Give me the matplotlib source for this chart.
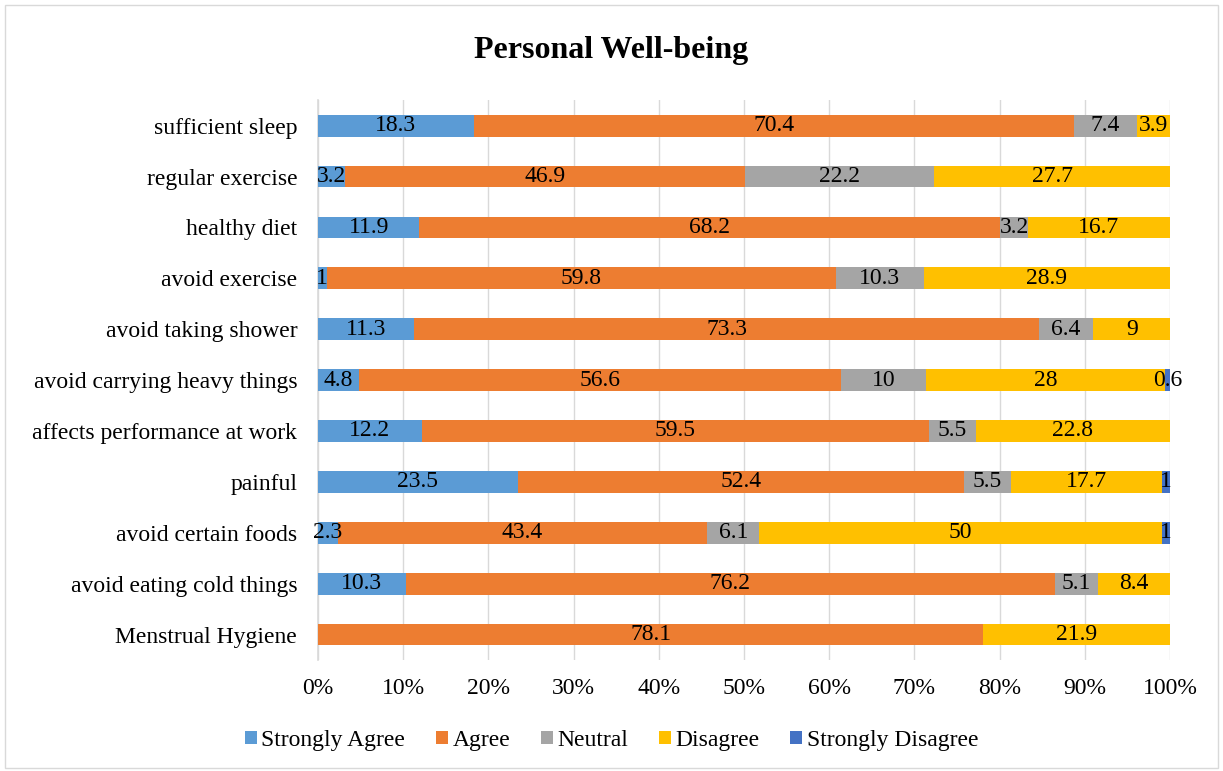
import numpy as np
import matplotlib.pyplot as plt
from matplotlib.patches import Rectangle

categories = ['sufficient sleep', 'regular exercise', 'healthy diet', 'avoid exercise',
              'avoid taking shower', 'avoid carrying heavy things', 'affects performance at work',
              'painful', 'avoid certain foods', 'avoid eating cold things', 'Menstrual Hygiene']

strongly_agree = [18.3, 3.2, 11.9, 1, 11.3, 4.8, 12.2, 23.5, 2.3, 10.3, 0]
agree = [70.4, 46.9, 68.2, 59.8, 73.3, 56.6, 59.5, 52.4, 43.4, 76.2, 78.1]
neutral = [7.4, 22.2, 3.2, 10.3, 6.4, 10, 5.5, 5.5, 6.1, 5.1, 0]
disagree = [3.9, 27.7, 16.7, 28.9, 9, 28, 22.8, 17.7, 47.2, 8.4, 21.9]
strongly_disagree = [0, 0, 0, 0, 0, 0.6, 0, 1, 1, 0, 0]

# the chart prints "50" on the avoid certain foods / Disagree segment
label_override = {(3, 8): '50'}

series_names = ['Strongly Agree', 'Agree', 'Neutral', 'Disagree', 'Strongly Disagree']
colors = ['#5B9BD5', '#ED7D31', '#A5A5A5', '#FFC000', '#4472C4']

plt.rcParams['font.family'] = ['Liberation Serif', 'DejaVu Serif']

series = np.array([strongly_agree, agree, neutral, disagree, strongly_disagree])
totals = series.sum(axis=0)
shares = series / totals * 100

fig = plt.figure(figsize=(12.23, 7.71), dpi=100)
ax = fig.add_axes([0.26, 0.144, 0.6967, 0.726])

# chart border
fig.patches.append(Rectangle((0.004, 0.004), 0.992, 0.99, transform=fig.transFigure,
                             fill=False, edgecolor='#D9D9D9', linewidth=1))

y = np.arange(len(categories))[::-1]
left = np.zeros(len(categories))
for si, (vals, raw, name, c) in enumerate(zip(shares, series, series_names, colors)):
    ax.barh(y, vals, left=left, height=0.43, color=c, label=name, zorder=3)
    for ci, (yi, l, v, r) in enumerate(zip(y, left, vals, raw)):
        if r > 0:
            txt = label_override.get((si, ci), f'{r:g}')
            ax.text(l + v / 2, yi, txt, ha='center', va='center', fontsize=17,
                    color='black', zorder=4)
    left += vals

ax.set_xlim(0, 100)
ax.set_ylim(-0.5, len(categories) - 0.5)
ax.set_xticks(np.arange(0, 101, 10))
ax.set_xticklabels([f'{t}%' for t in range(0, 101, 10)], fontsize=17)
ax.set_yticks(y)
ax.set_yticklabels(categories, fontsize=17)
ax.tick_params(length=0)
ax.tick_params(axis='y', pad=15)
ax.tick_params(axis='x', pad=13)
ax.grid(axis='x', color='#D9D9D9', linewidth=1, zorder=0)
for s in ['top', 'right', 'bottom']:
    ax.spines[s].set_visible(False)
ax.spines['left'].set_color('#D9D9D9')
ax.spines['left'].set_linewidth(1.2)

fig.text(0.5, 0.935, 'Personal Well-being', ha='center', va='center',
         fontsize=23, fontweight='bold')

fig.legend(loc='center', bbox_to_anchor=(0.5, 0.04), ncol=5, frameon=False,
           fontsize=17, handlelength=0.5, handleheight=0.5, handletextpad=0.2,
           columnspacing=1.3)

fig.savefig('out.png', dpi=100)
